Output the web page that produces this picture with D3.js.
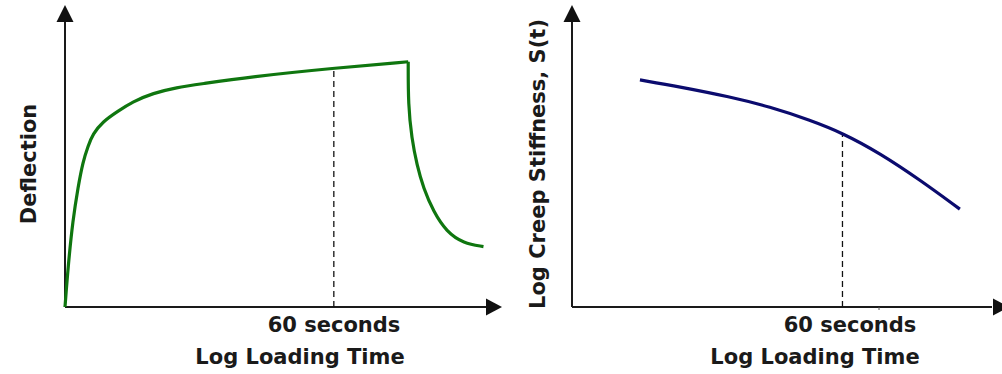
<!DOCTYPE html>
<html>
<head>
<meta charset="utf-8">
<script src="https://cdn.jsdelivr.net/npm/d3@7"></script>
<style>
  body { margin: 0; background: #fff; }
  text { font-family: 'DejaVu Sans', Verdana, sans-serif; font-weight: bold; fill: #1a1a1a; }
</style>
</head>
<body>
<div class="chart"></div>
<script>
// deflection vs log loading time (arbitrary units, 0-10 on both axes)
const creepX = [0, 0.07, 0.18, 0.3, 0.41, 0.53, 0.64, 0.87, 1.2, 1.56, 2.02, 2.57, 3.1, 4.25, 6.18, 7.89];
const creepY = [0, 1.32, 2.88, 3.97, 4.8, 5.33, 5.73, 6.14, 6.47, 6.8, 7.08, 7.27, 7.38, 7.62, 7.91, 8.12];
const recovX = [7.89, 7.89, 7.97, 8.09, 8.24, 8.47, 8.77, 9.16, 9.62];
const recovY = [8.12, 6.69, 5.59, 4.7, 3.93, 3.16, 2.49, 2.11, 2.0];

// log creep stiffness vs log loading time
const stiffX = [1.58, 2.51, 3.67, 4.6, 5.53, 6.31, 7.16, 8.09, 9.02];
const stiffY = [7.52, 7.29, 6.96, 6.63, 6.19, 5.75, 5.09, 4.21, 3.24];

// the 60 second marks, [x, y on curve]
const mark60Left = [6.18, 7.91];
const mark60Right = [6.29, 5.76];
const extraTickRight = 7.14;

const panels = [
  {
    left: 65, right: 500, ylabel: 'Deflection', ylabelX: 36,
    xlabelX: 300, markLabelX: 334, mark: mark60Left,
    series: [
      { xs: creepX, ys: creepY },
      { xs: recovX, ys: recovY }
    ],
    color: '#0f760f'
  },
  {
    left: 572, right: 1002, ylabel: 'Log Creep Stiffness, S(t)', ylabelX: 545,
    xlabelX: 815, markLabelX: 850, mark: mark60Right,
    series: [{ xs: stiffX, ys: stiffY }],
    color: '#0b0b6e', tick: extraTickRight
  }
];

const W = 1002, H = 374;
const plotBottom = 307, plotTop = 5;

const svg = d3.select('.chart').append('svg').attr('width', W).attr('height', H);

panels.forEach(function(p) {
  const x = d3.scaleLinear().domain([0, 10]).range([p.left, p.right]);
  const y = d3.scaleLinear().domain([0, 10]).range([plotBottom, plotTop]);
  const g = svg.append('g');

  // axes with arrowheads
  g.append('line')
    .attr('x1', x(0)).attr('y1', y(0)).attr('x2', x(0)).attr('y2', y(10) + 12)
    .attr('stroke', '#1a1a1a').attr('stroke-width', 2);
  g.append('line')
    .attr('x1', x(0)).attr('y1', y(0)).attr('x2', x(10) - 10).attr('y2', y(0))
    .attr('stroke', '#1a1a1a').attr('stroke-width', 2);
  g.append('path')
    .attr('d', 'M' + x(0) + ',' + y(10) + 'l-8.5,17h17z')
    .attr('fill', '#111');
  g.append('path')
    .attr('d', 'M' + (x(10) + (p.left > 300 ? 7 : 2)) + ',' + y(0) + 'l-16,-8.5v17z')
    .attr('fill', '#111');

  // dashed 60 s line
  g.append('line')
    .attr('x1', x(p.mark[0])).attr('x2', x(p.mark[0]))
    .attr('y1', y(0)).attr('y2', y(p.mark[1]))
    .attr('stroke', '#111').attr('stroke-width', 1.3)
    .attr('stroke-dasharray', '6,4');

  if (p.tick) {
    g.append('line')
      .attr('x1', x(p.tick)).attr('x2', x(p.tick))
      .attr('y1', y(0)).attr('y2', y(0) + 3)
      .attr('stroke', '#555').attr('stroke-width', 1);
  }

  p.series.forEach(function(s) {
    const pts = s.xs.map((v, i) => [v, s.ys[i]]);
    g.append('path')
      .datum(pts)
      .attr('fill', 'none')
      .attr('stroke', p.color)
      .attr('stroke-width', 3.2)
      .attr('stroke-linejoin', 'round')
      .attr('d', d3.line().x(d => x(d[0])).y(d => y(d[1])).curve(d3.curveBasis));
  });

  g.append('text')
    .attr('x', p.markLabelX).attr('y', 332)
    .attr('text-anchor', 'middle').style('font-size', '21px')
    .text('60 seconds');
  g.append('text')
    .attr('x', p.xlabelX).attr('y', 364)
    .attr('text-anchor', 'middle').style('font-size', '21px')
    .text('Log Loading Time');
  g.append('text')
    .attr('transform', 'translate(' + p.ylabelX + ',' + 164 + ') rotate(-90)')
    .attr('text-anchor', 'middle').style('font-size', '21px')
    .text(p.ylabel);
});
</script>
</body>
</html>
